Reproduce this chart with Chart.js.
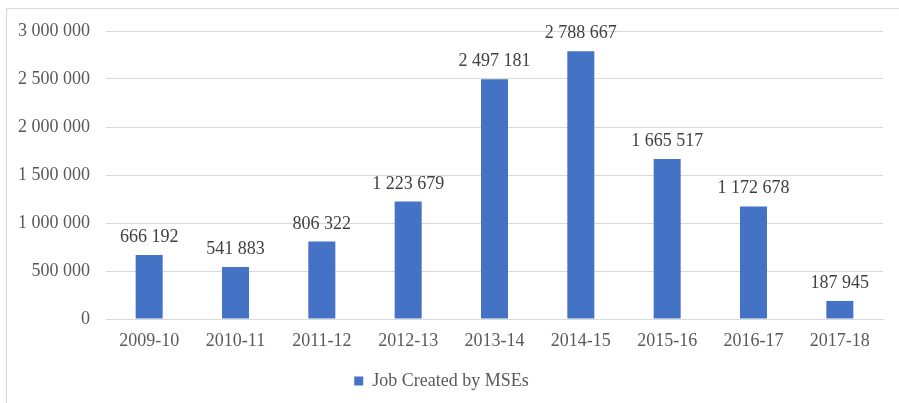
<!DOCTYPE html>
<html><head><meta charset="utf-8">
<script src="https://cdn.jsdelivr.net/npm/chart.js@4"></script>
<style>
html,body{margin:0;padding:0;background:#fff;overflow:hidden}
#wrap{position:absolute;left:0;top:0;width:899px;height:403px}
#frame{position:absolute;left:6px;top:8px;width:910px;height:420px;border-left:1px solid #d9d9d9;border-top:1px solid #d9d9d9;pointer-events:none}
</style></head>
<body>
<div id="wrap"><canvas id="c" width="899" height="403"></canvas><div id="frame"></div></div>
<script>
const categories = ["2009-10","2010-11","2011-12","2012-13","2013-14","2014-15","2015-16","2016-17","2017-18"];
const jobsCreated = [666192, 541883, 806322, 1223679, 2497181, 2788667, 1665517, 1172678, 187945];
const seriesName = "Job Created by MSEs";
const yTicks = [0, 500000, 1000000, 1500000, 2000000, 2500000, 3000000];

function fmt(v){ return String(Math.round(v)).replace(/\B(?=(\d{3})+(?!\d))/g, " "); }

const FONT = "'Liberation Serif', 'Times New Roman', serif";

const labelPlugin = {
  id: 'barLabels',
  afterDatasetsDraw(chart){
    const ctx = chart.ctx;
    const meta = chart.getDatasetMeta(0);
    ctx.save();
    ctx.font = "18px " + FONT;
    ctx.fillStyle = "#404040";
    ctx.textAlign = "center";
    ctx.textBaseline = "alphabetic";
    meta.data.forEach((bar, i) => {
      ctx.fillText(fmt(chart.data.datasets[0].data[i]), bar.x, bar.y - 13);
    });
    ctx.restore();
  }
};

new Chart(document.getElementById('c'), {
  type: 'bar',
  data: {
    labels: categories,
    datasets: [{
      label: seriesName,
      data: jobsCreated,
      backgroundColor: '#4472C4',
      borderWidth: 0,
      categoryPercentage: 1,
      barPercentage: 0.313
    }]
  },
  options: {
    responsive: false,
    animation: false,
    devicePixelRatio: 1,
    layout: { padding: { left: 0, right: 16, top: 31, bottom: 3 } },
    plugins: {
      tooltip: { enabled: false },
      legend: {
        position: 'bottom',
        labels: {
          font: { family: FONT, size: 18 },
          color: '#595959',
          boxWidth: 9,
          boxHeight: 9,
          padding: 10
        }
      }
    },
    scales: {
      x: {
        grid: { display: false },
        border: { display: true, color: '#d9d9d9' },
        ticks: { font: { family: FONT, size: 18 }, color: '#595959', padding: 3, maxRotation: 0 },
        afterFit(s){ s.height = 43; }
      },
      y: {
        min: 0, max: 3000000,
        afterBuildTicks(s){ s.ticks = yTicks.map(v => ({value: v})); },
        grid: { color: '#d9d9d9', drawTicks: false },
        border: { display: false },
        ticks: { font: { family: FONT, size: 18 }, color: '#595959', padding: 16, callback: v => fmt(v) },
        afterFit(s){ s.width = 106; }
      }
    }
  },
  plugins: [labelPlugin]
});
</script>
</body></html>
